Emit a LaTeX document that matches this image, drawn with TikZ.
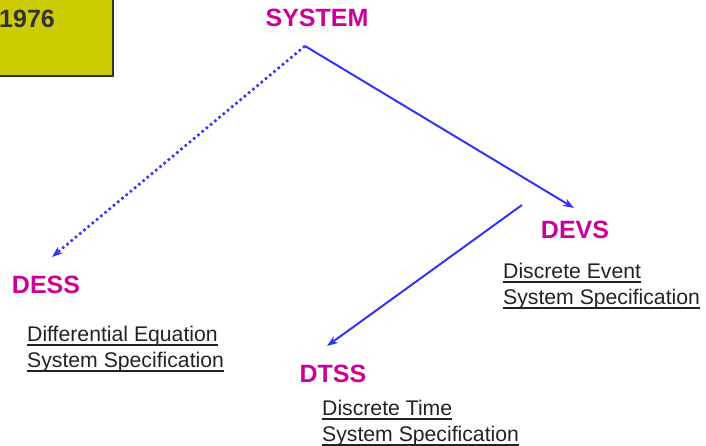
\documentclass[tikz,border=0pt]{standalone}
\usepackage{fontspec}
\setmainfont{Liberation Sans}
\usetikzlibrary{arrows.meta}
\definecolor{titlemag}{HTML}{CC0099}
\definecolor{linkblue}{HTML}{3333FF}
\definecolor{boxyellow}{HTML}{CCCC00}
\definecolor{boxedge}{HTML}{333333}
\definecolor{subtext}{HTML}{222222}
\newcommand{\undl}[1]{\setbox0=\hbox{#1}\rlap{\rule[-4pt]{\wd0}{1.7pt}}\box0}
\begin{document}
\begin{tikzpicture}[x=1pt,y=-1pt,
  title/.style={font=\fontsize{25}{29}\selectfont\bfseries, text=titlemag, inner sep=0pt},
  subtitle/.style={font=\fontsize{21.2}{26}\selectfont, text=subtext, align=left, anchor=north west, inner sep=0pt},
  link/.style={draw=linkblue, line width=2pt, -{Stealth[length=11pt,width=8pt]}},
  dottedlink/.style={link, dash pattern=on 2.5pt off 3pt, line width=2.6pt}]
\useasboundingbox (0,0) rectangle (706,446);
\fill[boxyellow, draw=boxedge, line width=2pt] (-10,-10) rectangle (113,76);
\node[font=\fontsize{25}{29}\selectfont\bfseries, text=boxedge, anchor=west, inner sep=0pt] (year) at (-1,19) {1976};
\node[title] (system) at (317,18) {SYSTEM};
\node[title] (dess) at (46,285) {DESS};
\node[title] (devs) at (575,230) {DEVS};
\node[title] (dtss) at (333,374) {DTSS};
\node[subtitle] (dessText) at (27,326) {\undl{Differential Equation}\\\undl{System Specification}};
\node[subtitle] (devsText) at (503,263) {\undl{Discrete Event}\\\undl{System Specification}};
\node[subtitle] (dtssText) at (322,400) {\undl{Discrete Time}\\\undl{System Specification}};
\coordinate (apex) at (305,46);
\coordinate (dessEnd) at (52,257);
\coordinate (devsEnd) at (574,208);
\coordinate (dtssStart) at (522,205);
\coordinate (dtssEnd) at (327,346);
\draw[dottedlink] (apex) -- (dessEnd);
\draw[link] (apex) -- (devsEnd);
\draw[link] (dtssStart) -- (dtssEnd);
\end{tikzpicture}
\end{document}
